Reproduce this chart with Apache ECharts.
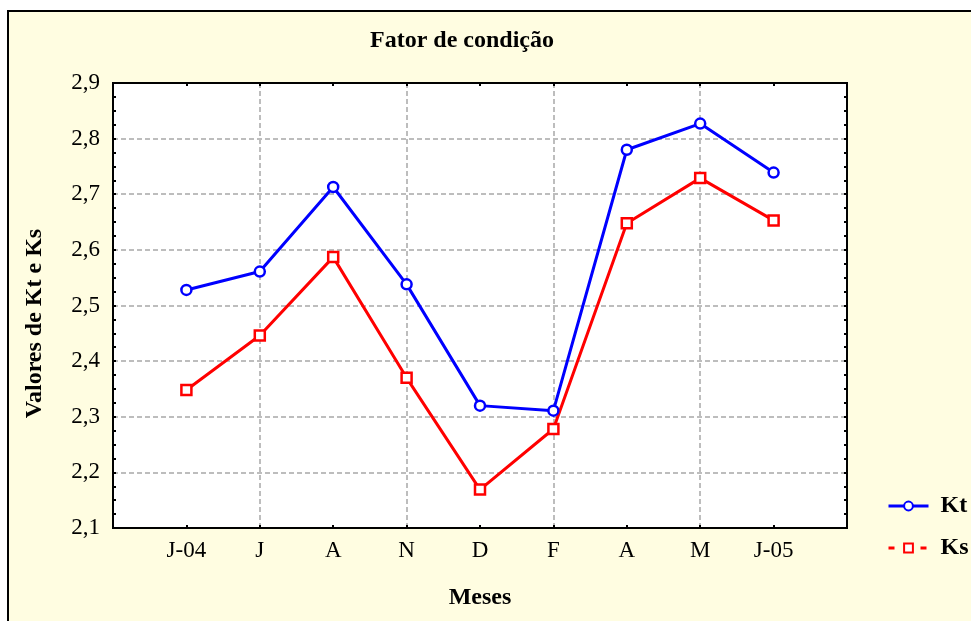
<!DOCTYPE html>
<html>
<head>
<meta charset="utf-8">
<script src="https://cdn.jsdelivr.net/npm/echarts@6/dist/echarts.min.js"></script>
<style>
  html, body { margin: 0; padding: 0; background: #fff; }
  #chart { width: 971px; height: 621px; }
</style>
</head>
<body>
<div id="chart"></div>
<script>
// meses de coleta
const months = ['J-04', 'J', 'A', 'N', 'D', 'F', 'A', 'M', 'J-05']
const kt = [2.528, 2.561, 2.713, 2.538, 2.320, 2.311, 2.780, 2.827, 2.739]
const ks = [2.348, 2.446, 2.587, 2.370, 2.169, 2.278, 2.648, 2.729, 2.653]
const yTicks = [2.1, 2.2, 2.3, 2.4, 2.5, 2.6, 2.7, 2.8, 2.9]

const font = 'Liberation Serif'
const axisSlots = [''].concat(months, [''])
const toPoints = vals => vals.map((v, i) => [i + 1, v])
const comma = v => v.toFixed(1).replace('.', ',')

const chart = echarts.init(document.getElementById('chart'))
const gridLine = {
  show: true,
  lineStyle: { color: '#bdbdbd', width: 2, type: [5, 3] }
}
const boldText = { fontFamily: font, fontSize: 24, fontWeight: 'bold', color: '#000' }
const tickStyle = { inside: true, length: 3, lineStyle: { color: '#000', width: 2 } }
chart.setOption({
  animation: false,
  graphic: [{
    type: 'rect',
    z: -10,
    shape: { x: 8, y: 11, width: 980, height: 640 },
    style: { fill: '#fffde1', stroke: '#000', lineWidth: 2 }
  }],
  title: {
    text: 'Fator de condição',
    left: 457,
    top: 24,
    textAlign: 'center',
    textStyle: boldText
  },
  grid: {
    left: 113, top: 83, right: 124, bottom: 93,
    show: true,
    backgroundColor: '#fff',
    borderColor: '#000',
    borderWidth: 2
  },
  legend: {
    orient: 'vertical',
    left: 882,
    top: 489,
    itemWidth: 40,
    itemHeight: 11,
    itemGap: 18,
    textStyle: Object.assign({ padding: [0, 0, 0, 7] }, boldText),
    data: [
      { name: 'Kt', lineStyle: { width: 3 } },
      { name: 'Ks', lineStyle: { width: 3, type: [6, 10] } }
    ]
  },
  xAxis: [{
    type: 'category',
    data: axisSlots,
    boundaryGap: false,
    name: 'Meses',
    nameLocation: 'middle',
    nameGap: 58,
    nameTextStyle: boldText,
    axisLine: { lineStyle: { color: '#000', width: 2 } },
    axisTick: tickStyle,
    axisLabel: { fontFamily: font, fontSize: 23, color: '#000', margin: 11, interval: 0 },
    splitLine: Object.assign({ interval: (i) => i % 2 === 0 && i > 0 && i < 10 }, gridLine)
  }, {
    type: 'category',
    data: axisSlots,
    boundaryGap: false,
    position: 'top',
    axisLine: { lineStyle: { color: '#000', width: 2 } },
    axisTick: tickStyle,
    axisLabel: { show: false },
    splitLine: { show: false }
  }],
  yAxis: [{
    type: 'value',
    min: yTicks[0],
    max: yTicks[yTicks.length - 1],
    interval: 0.1,
    name: 'Valores de Kt e Ks',
    nameLocation: 'middle',
    nameGap: 66,
    nameTextStyle: Object.assign({ padding: [0, 36, 0, 0] }, boldText),
    axisLine: { show: true, lineStyle: { color: '#000', width: 2 } },
    axisTick: Object.assign({ show: true }, tickStyle),
    minorTick: { show: true, splitNumber: 4, length: 3, lineStyle: { color: '#000', width: 2 } },
    axisLabel: { fontFamily: font, fontSize: 23, color: '#000', margin: 13, formatter: comma },
    splitLine: gridLine
  }, {
    type: 'value',
    position: 'right',
    min: yTicks[0],
    max: yTicks[yTicks.length - 1],
    interval: 0.1,
    axisLine: { show: true, lineStyle: { color: '#000', width: 2 } },
    axisTick: Object.assign({ show: true }, tickStyle),
    minorTick: { show: true, splitNumber: 4, length: 3, lineStyle: { color: '#000', width: 2 } },
    axisLabel: { show: false },
    splitLine: { show: false }
  }],
  series: [{
    name: 'Kt',
    type: 'line',
    data: toPoints(kt),
    symbol: 'circle',
    symbolSize: 10,
    lineStyle: { color: '#0000ff', width: 3 },
    itemStyle: { color: '#fff', borderColor: '#0000ff', borderWidth: 2.5 }
  }, {
    name: 'Ks',
    type: 'line',
    data: toPoints(ks),
    symbol: 'rect',
    symbolSize: 10,
    lineStyle: { color: '#ff0000', width: 3 },
    itemStyle: { color: '#fff', borderColor: '#ff0000', borderWidth: 2.5 }
  }]
})
</script>
</body>
</html>
